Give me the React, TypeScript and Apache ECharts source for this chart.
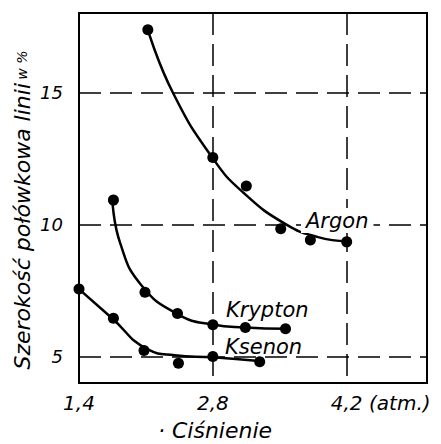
import React, { useEffect, useRef } from "react";
import * as echarts from "echarts";

const xTicks = [1.4, 2.8, 4.2];
const yTicks = [5, 10, 15];

// measured points
const argonX = [2.12, 2.8, 3.15, 3.51, 3.82, 4.2];
const argonY = [17.37, 12.53, 11.45, 9.84, 9.41, 9.34];
const kryptonX = [1.76, 2.09, 2.43, 2.8, 3.14, 3.56];
const kryptonY = [10.92, 7.43, 6.63, 6.2, 6.1, 6.05];
const ksenonX = [1.4, 1.76, 2.08, 2.44, 2.8, 3.29];
const ksenonY = [7.56, 6.45, 5.23, 4.75, 5.0, 4.8];

// hand-drawn fitted curves
const argonCurveX = [2.12, 2.38, 2.8, 3.12, 3.57, 3.9, 4.2];
const argonCurveY = [17.37, 15.0, 12.5, 11.2, 9.99, 9.52, 9.36];
const kryptonCurveX = [1.75, 1.83, 2.05, 2.44, 2.8, 3.14, 3.56];
const kryptonCurveY = [10.9, 9.3, 7.71, 6.59, 6.21, 6.1, 6.05];
const ksenonCurveX = [1.4, 1.74, 2.12, 2.4, 2.8, 3.28];
const ksenonCurveY = [7.55, 6.47, 5.27, 5.05, 4.97, 4.83];

const zip = (xs: number[], ys: number[]) => xs.map((x, i) => [x, ys[i]]);

const FONT = "DejaVu Sans";

export default function App() {
  const ref = useRef<HTMLDivElement>(null);
  useEffect(() => {
    if (!ref.current) return;
    const chart = echarts.init(ref.current, undefined, { renderer: "svg" });
    const curve = (name: string, xs: number[], ys: number[]) => ({
      name,
      type: "line",
      data: zip(xs, ys),
      smooth: 0.5,
      showSymbol: false,
      symbol: "none",
      lineStyle: { color: "#000", width: 2.5 },
      z: 3,
      silent: true,
    });
    const pts = (name: string, xs: number[], ys: number[]) => ({
      name,
      type: "scatter",
      data: zip(xs, ys),
      symbol: "circle",
      symbolSize: 11,
      itemStyle: { color: "#000", opacity: 1 },
      z: 4,
      silent: true,
    });
    const dash = { color: "#000", width: 1.5, type: [22, 9] as any };
    chart.setOption({
      animation: false,
      backgroundColor: "#fff",
      grid: {
        left: 79,
        right: 14,
        top: 13,
        bottom: 61,
        show: true,
        borderColor: "#000",
        borderWidth: 2,
        containLabel: false,
      },
      xAxis: {
        type: "value",
        min: 1.4,
        max: 5.04,
        interval: 1.4,
        axisLine: { show: false },
        axisTick: { show: false },
        splitLine: { show: true, lineStyle: dash },
        axisLabel: {
          margin: 10,
          showMaxLabel: false,
          fontFamily: FONT,
          fontStyle: "italic",
          fontSize: 20,
          color: "#000",
          formatter: (v: number) => {
            const t = xTicks.find((k) => Math.abs(k - v) < 1e-6);
            return t === undefined ? "" : t.toFixed(1).replace(".", ",");
          },
        },
      },
      yAxis: {
        type: "value",
        min: 4,
        max: 18,
        interval: 1,
        axisLine: { show: false },
        axisTick: { show: false },
        splitLine: { show: false },
        axisLabel: {
          margin: 16,
          fontFamily: FONT,
          fontStyle: "italic",
          fontSize: 18,
          color: "#000",
          formatter: (v: number) => {
            const t = yTicks.find((k) => Math.abs(k - v) < 1e-6);
            return t === undefined ? "" : String(t);
          },
        },
      },
      series: [
        {
          type: "line",
          data: [],
          markLine: {
            silent: true,
            symbol: "none",
            label: { show: false },
            lineStyle: dash,
            data: yTicks.map((y) => ({ yAxis: y })),
          },
        },
        curve("Argon", argonCurveX, argonCurveY),
        curve("Krypton", kryptonCurveX, kryptonCurveY),
        curve("Ksenon", ksenonCurveX, ksenonCurveY),
        pts("Argon pts", argonX, argonY),
        pts("Krypton pts", kryptonX, kryptonY),
        pts("Ksenon pts", ksenonX, ksenonY),
      ],
      graphic: [
        {
          type: "text",
          z: 100,
          left: 301,
          top: 208,
          style: {
            text: "Argon",
            font: `italic 21px "${FONT}"`,
            fill: "#000",
            backgroundColor: "#fff",
            padding: [2, 5],
          },
        },
        {
          type: "text",
          z: 100,
          left: 226,
          top: 299,
          style: { text: "Krypton", font: `italic 21px "${FONT}"`, fill: "#000" },
        },
        {
          type: "text",
          z: 100,
          left: 225,
          top: 336,
          style: { text: "Ksenon", font: `italic 21px "${FONT}"`, fill: "#000" },
        },
        {
          type: "text",
          z: 100,
          left: 369,
          top: 393,
          style: { text: "(atm.)", font: `italic 20px "${FONT}"`, fill: "#000" },
        },
        {
          type: "text",
          z: 100,
          x: 215,
          y: 430,
          style: {
            text: "· Ciśnienie",
            font: `italic 22px "${FONT}"`,
            fill: "#000",
            align: "center",
            verticalAlign: "middle",
          },
        },
        {
          type: "text",
          z: 100,
          x: 22,
          y: 210,
          rotation: Math.PI / 2,
          style: {
            text: "{a|Szerokość połówkowa linii} {b|w %}",
            align: "center",
            verticalAlign: "middle",
            fill: "#000",
            rich: {
              a: { font: `italic 22px "${FONT}"`, fill: "#000" },
              b: { font: `italic 14px "${FONT}"`, fill: "#000" },
            },
          },
        },
      ],
    });
    return () => chart.dispose();
  }, []);
  return (
    <div
      ref={ref}
      style={{ position: "fixed", left: 0, top: 0, width: 441, height: 444, background: "#fff" }}
    />
  );
}
